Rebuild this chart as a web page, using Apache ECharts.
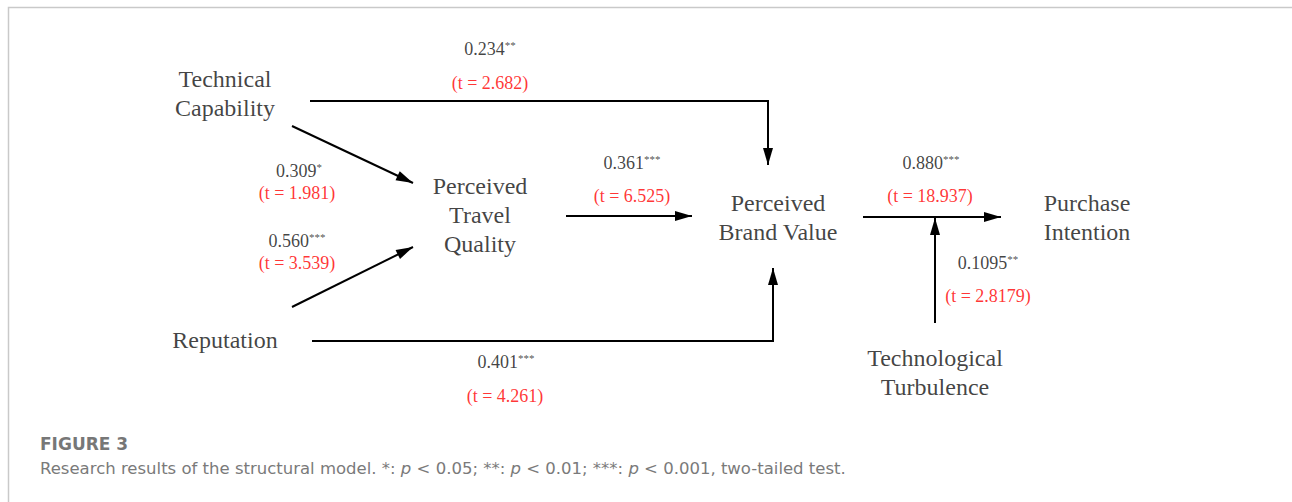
<!DOCTYPE html>
<html>
<head>
<meta charset="utf-8">
<title>Structural model</title>
<style>
  html, body { margin: 0; padding: 0; background: #fff; }
  #main { width: 1292px; height: 502px; }
</style>
<script src="https://cdn.jsdelivr.net/npm/echarts@6/dist/echarts.min.js"></script>
</head>
<body>
<div id="main"></div>
<script>
// constructs of the model
const nodeNames = ['Technical\nCapability', 'Reputation', 'Perceived\nTravel\nQuality', 'Perceived\nBrand Value', 'Purchase\nIntention', 'Technological\nTurbulence'];

// paths: coefficient, significance stars, t value
const pathNames = ['TC -> PBV', 'TC -> PTQ', 'REP -> PTQ', 'REP -> PBV', 'PTQ -> PBV', 'PBV -> PI', 'TT x PBV -> PI'];
const coefs = ['0.234', '0.309', '0.560', '0.401', '0.361', '0.880', '0.1095'];
const stars = ['**', '*', '***', '***', '***', '***', '**'];
const tStats = ['2.682', '1.981', '3.539', '4.261', '6.525', '18.937', '2.8179'];

// layout (pixel space of the 1292x502 canvas)
const nodePos = [[225, 93], [225, 340], [480, 215], [778, 217], [1087, 217], [935, 372]];
const edgePts = [
  [[310, 101], [768, 101], [768, 165]],
  [[292, 126], [413, 183]],
  [[292, 307], [413, 247]],
  [[312, 341], [773, 341], [773, 268]],
  [[566, 216], [692, 216]],
  [[863, 217], [1001, 217]],
  [[935, 323], [935, 218]]
];
const coefPos = [[490, 49], [299, 171], [297, 241], [506, 362], [632, 163], [931, 163], [988, 263]];
const tPos = [[490, 83], [297, 193], [297, 263], [505, 396], [632, 196], [930, 196], [988, 296]];

const serif = 'Liberation Serif';
const red = '#ff0000';

const chart = echarts.init(document.getElementById('main'), null, { renderer: 'svg' });

const option = {
  animation: false,
  backgroundColor: '#fff',
  textStyle: { fontFamily: serif },
  grid: { left: 0, right: 0, top: 0, bottom: 0 },
  xAxis: { type: 'value', min: 0, max: 1292, show: false },
  yAxis: { type: 'value', min: 0, max: 502, inverse: true, show: false },
  graphic: [
    {
      type: 'polyline',
      silent: true,
      shape: { points: [[1292, 7.5], [8.5, 7.5], [8.5, 502]] },
      style: { stroke: '#c9c9c9', lineWidth: 1.5, fill: null }
    },
    {
      type: 'text',
      left: 40,
      top: 435,
      style: { text: 'FIGURE 3', font: 'bold 17px "DejaVu Sans"', fill: '#777' }
    },
    {
      type: 'text',
      left: 40,
      top: 460,
      style: {
        text: '{r|Research results of the structural model. *: }{i|p}{r| < 0.05; **: }{i|p}{r| < 0.01; ***: }{i|p}{r| < 0.001, two-tailed test.}',
        rich: {
          r: { fontFamily: 'DejaVu Sans', fontSize: 16.5, fill: '#7a7a7a' },
          i: { fontFamily: 'DejaVu Sans', fontSize: 16.5, fontStyle: 'italic', fill: '#7a7a7a' }
        }
      }
    }
  ],
  series: [
    {
      // path lines
      type: 'lines',
      coordinateSystem: 'cartesian2d',
      polyline: true,
      silent: true,
      symbol: 'none',
      lineStyle: { color: '#000', width: 2, opacity: 1 },
      data: edgePts.map((pts, i) => ({ name: pathNames[i], coords: pts }))
    },
    {
      // arrow heads
      type: 'custom',
      silent: true,
      data: edgePts.map(pts => pts[pts.length - 1]),
      encode: { x: 0, y: 1 },
      renderItem: function (params, api) {
        const pts = edgePts[params.dataIndex];
        const tip = api.coord(pts[pts.length - 1]);
        const prev = api.coord(pts[pts.length - 2]);
        const dx = tip[0] - prev[0], dy = tip[1] - prev[1];
        const len = Math.hypot(dx, dy);
        const ux = dx / len, uy = dy / len;
        const L = 17, W = 5;
        const bx = tip[0] - ux * L, by = tip[1] - uy * L;
        return {
          type: 'polygon',
          shape: { points: [tip, [bx - uy * W, by + ux * W], [bx + uy * W, by - ux * W]] },
          style: { fill: '#000' }
        };
      }
    },
    {
      // construct names
      type: 'scatter',
      silent: true,
      symbolSize: 0,
      data: nodeNames.map((n, i) => ({ name: n, value: nodePos[i] })),
      label: {
        show: true,
        position: 'inside',
        formatter: '{b}',
        fontFamily: serif,
        fontSize: 24,
        lineHeight: 29,
        color: '#111',
        align: 'center'
      }
    },
    {
      // coefficients with stars
      type: 'scatter',
      silent: true,
      symbolSize: 0,
      data: coefs.map((c, i) => ({ name: pathNames[i], value: coefPos[i] })),
      label: {
        show: true,
        position: 'inside',
        formatter: p => '{n|' + coefs[p.dataIndex] + '}{s|' + stars[p.dataIndex] + '}',
        rich: {
          n: { fontFamily: serif, fontSize: 18, lineHeight: 20, color: '#111' },
          s: { fontFamily: serif, fontSize: 11, lineHeight: 20, verticalAlign: 'top', color: '#222' }
        }
      }
    },
    {
      // t statistics
      type: 'scatter',
      silent: true,
      symbolSize: 0,
      data: tStats.map((t, i) => ({ name: pathNames[i], value: tPos[i] })),
      label: {
        show: true,
        position: 'inside',
        formatter: p => '(t = ' + tStats[p.dataIndex] + ')',
        fontFamily: serif,
        fontSize: 18,
        color: red
      }
    }
  ]
};

chart.setOption(option);
</script>
</body>
</html>
